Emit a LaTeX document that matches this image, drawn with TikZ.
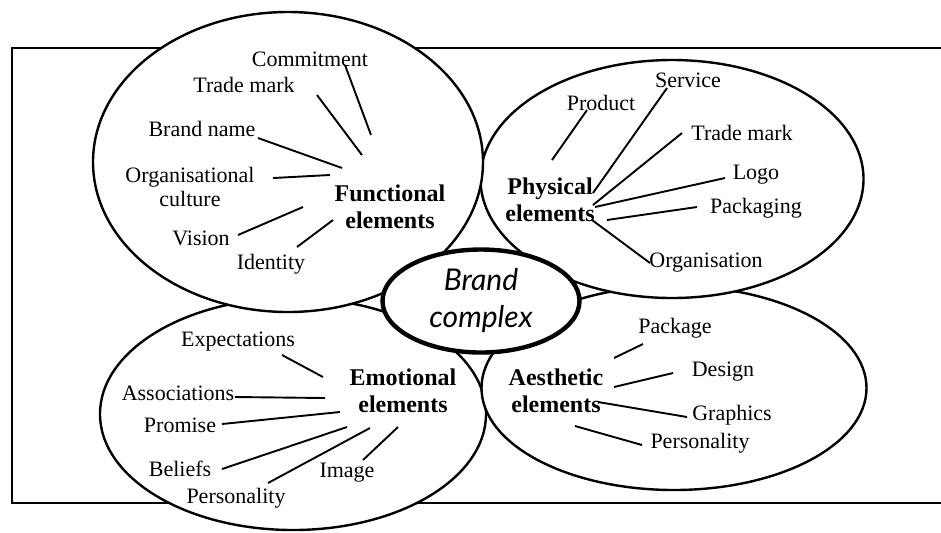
\documentclass[tikz,border=0pt]{standalone}
\usepackage{fontspec}
\setmainfont{Liberation Serif}
\newfontfamily\brandfont{Lato}
\usetikzlibrary{shapes.geometric}

\begin{document}
\begin{tikzpicture}[
    x=0.5pt, y=-0.5pt,
    blob/.style={ellipse, draw, line width=1.2pt, fill=white, inner sep=0pt},
    core/.style={ellipse, draw, line width=2.2pt, fill=white, inner sep=0pt, align=center,
        font=\brandfont\itshape\fontsize{15}{18.5}\selectfont},
    item/.style={font=\fontsize{11}{12}\selectfont, align=center, inner sep=0pt},
    head/.style={font=\bfseries\fontsize{12}{13.5}\selectfont, align=center, inner sep=0pt},
    spoke/.style={line width=0.95pt},
    frame/.style={line width=0.7pt}
]
    \useasboundingbox (0,0) rectangle (941,532);

    % open frame behind the ellipses
    \draw[frame] (941,48) -- (12,48) -- (12,503) -- (941,503);

    % the four groups, then the core on top
    \node[blob, minimum width=193pt, minimum height=116pt] (emoE) at (293,414) {};
    \node[blob, minimum width=192.5pt, minimum height=102pt] (aesE) at (674,388) {};
    \node[blob, minimum width=191.5pt, minimum height=119pt] (phyE) at (672,179) {};
    \node[blob, minimum width=195pt, minimum height=150pt] (funE) at (288,162) {};
    \node[core, minimum width=98.5pt, minimum height=51.5pt] (brand) at (481,301) {Brand\\complex};

    % functional elements
    \node[head] (fun) at (390,207) {Functional\\elements};
    \node[item] (comm) at (310,59) {Commitment};
    \node[item] (tmF) at (244,85) {Trade mark};
    \node[item] (bn) at (202,129) {Brand name};
    \node[item] (org) at (190,187) {Organisational\\culture};
    \node[item] (vis) at (201,238) {Vision};
    \node[item] (ide) at (271,264) {Identity};

    \draw[spoke] ([shift={(35,6)}]comm.center) -- ([shift={(-19,-72)}]fun.center);
    \draw[spoke] ([shift={(73,10)}]tmF.center) -- ([shift={(-28,-52)}]fun.center);
    \draw[spoke] ([shift={(56,9)}]bn.center) -- ([shift={(-48,-39)}]fun.center);
    \draw[spoke] ([shift={(83,-9)}]org.center) -- ([shift={(-60,-32)}]fun.center);
    \draw[spoke] ([shift={(37,-3)}]vis.center) -- ([shift={(-87,0)}]fun.center);
    \draw[spoke] ([shift={(26,-17)}]ide.center) -- ([shift={(-57,13)}]fun.center);

    % physical elements
    \node[head] (phy) at (550,200) {Physical\\elements};
    \node[item] (prod) at (601,103) {Product};
    \node[item] (srv) at (688,80) {Service};
    \node[item] (tmP) at (742,133) {Trade mark};
    \node[item] (logo) at (756,175) {Logo};
    \node[item] (pack) at (756,208) {Packaging};
    \node[item] (orgn) at (706,263) {Organisation};

    \draw[spoke] ([shift={(-14,7)}]prod.center) -- ([shift={(2,-40)}]phy.center);
    \draw[spoke] ([shift={(-21,8)}]srv.center) -- ([shift={(43,-7)}]phy.center);
    \draw[spoke] ([shift={(-60,0)}]tmP.center) -- ([shift={(43,5)}]phy.center);
    \draw[spoke] ([shift={(-31,3)}]logo.center) -- ([shift={(45,7)}]phy.center);
    \draw[spoke] ([shift={(-59,-1)}]pack.center) -- ([shift={(57,20)}]phy.center);
    \draw[spoke] ([shift={(42,20)}]phy.center) -- ([shift={(-56,0)}]orgn.center);

    % emotional elements
    \node[head] (emo) at (403,391) {Emotional\\elements};
    \node[item] (exp) at (238,342) {Expectations};
    \node[item] (asc) at (178,393) {Associations};
    \node[item] (prom) at (180,425) {Promise};
    \node[item] (bel) at (180,469) {Beliefs};
    \node[item] (persE) at (236,498) {Personality};
    \node[item] (img) at (347,473) {Image};

    \draw[spoke] ([shift={(44,13)}]exp.center) -- ([shift={(-80,-14)}]emo.center);
    \draw[spoke] ([shift={(57,4)}]asc.center) -- ([shift={(-78,7)}]emo.center);
    \draw[spoke] ([shift={(42,-1)}]prom.center) -- ([shift={(-63,21)}]emo.center);
    \draw[spoke] ([shift={(42,0)}]bel.center) -- ([shift={(-56,36)}]emo.center);
    \draw[spoke] ([shift={(32,-15)}]persE.center) -- ([shift={(-33,37)}]emo.center);
    \draw[spoke] ([shift={(16,-13)}]img.center) -- ([shift={(-5,36)}]emo.center);

    % aesthetic elements
    \node[head] (aes) at (556,391) {Aesthetic\\elements};
    \node[item] (pkg) at (675,328) {Package};
    \node[item] (des) at (723,372) {Design};
    \node[item] (gra) at (732,415) {Graphics};
    \node[item] (persA) at (700,443) {Personality};

    \draw[spoke] ([shift={(-32,16)}]pkg.center) -- ([shift={(58,-33)}]aes.center);
    \draw[spoke] ([shift={(-50,1)}]des.center) -- ([shift={(58,-4)}]aes.center);
    \draw[spoke] ([shift={(-45,2)}]gra.center) -- ([shift={(42,11)}]aes.center);
    \draw[spoke] ([shift={(-58,2)}]persA.center) -- ([shift={(19,35)}]aes.center);
\end{tikzpicture}
\end{document}
